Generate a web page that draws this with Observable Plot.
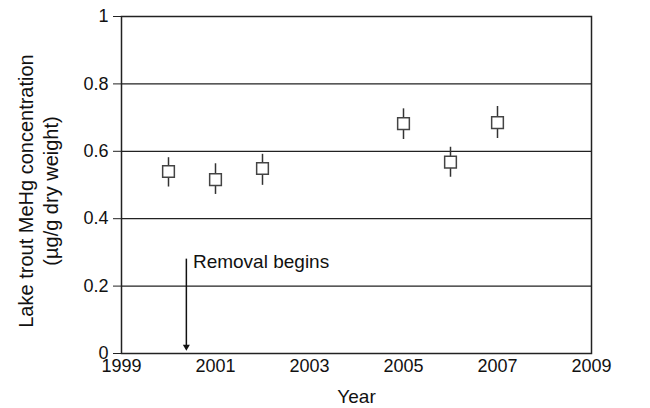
<!DOCTYPE html>
<html><head><meta charset="utf-8">
<script src="https://cdn.jsdelivr.net/npm/d3@7"></script>
<script src="https://cdn.jsdelivr.net/npm/@observablehq/plot@0.6"></script>
<style>
body{margin:0;background:#fff;}
svg{font-family:"Liberation Sans",Arial,sans-serif;}
g[aria-label="x-axis tick label"] text, g[aria-label="y-axis tick label"] text{font-size:18px;}
g[aria-label="x-axis tick label"], g[aria-label="y-axis tick label"]{font-size:18px;}
</style>
</head><body><div id="chart"></div>
<script>
const years = [2000, 2001, 2002, 2005, 2006, 2007];
const means = [0.540, 0.516, 0.549, 0.682, 0.568, 0.685];
const lows  = [0.494, 0.472, 0.499, 0.635, 0.523, 0.638];
const highs = [0.581, 0.563, 0.591, 0.726, 0.612, 0.733];
const xTicks = [1999, 2001, 2003, 2005, 2007, 2009];
const yTicks = [0, 0.2, 0.4, 0.6, 0.8, 1];
const gridY = [0.2, 0.4, 0.6, 0.8];
const arrowX = [2000.38];
const arrowTop = [0.28];
const arrowBottom = [0.02];
const noteX = [2000.52];
const noteY = [0.272];
const noteText = ["Removal begins"];

const data = years.map((y, i) => ({year: y, mean: means[i], lo: lows[i], hi: highs[i]}));
const arrow = arrowX.map((x, i) => ({x, y1: arrowTop[i], y2: arrowBottom[i]}));
const notes = noteX.map((x, i) => ({x, y: noteY[i], t: noteText[i]}));

const chart = Plot.plot({
  width: 650, height: 408,
  marginLeft: 121, marginRight: 59, marginTop: 16, marginBottom: 55,
  style: {fontFamily: '"Liberation Sans", Arial, sans-serif', fontSize: "18px", color: "#111"},
  x: {domain: [1999, 2009], label: null},
  y: {domain: [0, 1], label: null},
  marks: [
    Plot.ruleY(gridY, {stroke: "#222", strokeWidth: 1.2}),
    Plot.frame({stroke: "#222", strokeWidth: 1.5}),
    Plot.axisY({ticks: yTicks, tickFormat: d => String(d), tickSize: 8, tickPadding: 5, fontSize: 18, stroke: "#222", label: null}),
    Plot.axisX({ticks: xTicks, tickFormat: d3.format("d"), tickSize: 0, tickPadding: 6, fontSize: 18, label: null}),
    Plot.ruleX(data, {x: "year", y1: "lo", y2: "hi", stroke: "#333", strokeWidth: 1.5}),
    Plot.dot(data, {x: "year", y: "mean", symbol: "square", r: 6.6, fill: "white", stroke: "#444", strokeWidth: 1.5}),
    Plot.ruleX(arrow, {x: "x", y1: "y1", y2: "y2", stroke: "#111", strokeWidth: 1.5}),
    Plot.dot(arrow, {x: "x", y: "y2", symbol: "triangle", rotate: 180, r: 2.6, fill: "#111", stroke: "none"}),
    Plot.text(notes, {x: "x", y: "y", text: "t", textAnchor: "start", fontSize: 19, fill: "#111"}),
    Plot.text(["Year"], {frameAnchor: "bottom", dy: 43, fontSize: 19, fill: "#111", lineAnchor: "middle"}),
    Plot.text(["Lake trout MeHg concentration\n(µg/g dry weight)"], {frameAnchor: "left", textAnchor: "middle", dx: -84, dy: 6, rotate: -90, fontSize: 20, lineHeight: 1.25, lineAnchor: "middle", fill: "#111"})
  ]
});
document.getElementById("chart").appendChild(chart);
</script></body></html>
